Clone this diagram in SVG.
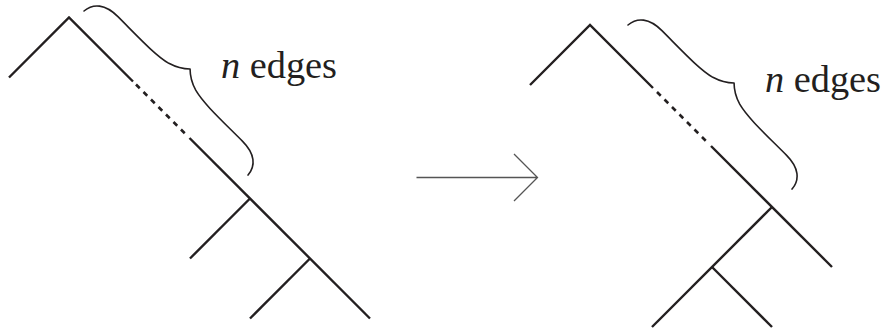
<svg xmlns="http://www.w3.org/2000/svg" width="885" height="329" viewBox="0 0 885 329">
<defs>
<style>
.e{fill:none;stroke:#231f20;stroke-width:2.4;stroke-linecap:butt}
.d{fill:none;stroke:#231f20;stroke-width:2.6;stroke-dasharray:5.3 5.3}
.b{fill:none;stroke:#231f20;stroke-width:1.6;stroke-linecap:round;stroke-linejoin:round}
.t{font-family:'Liberation Serif','Times New Roman',serif;font-size:37px;fill:#231f20}
.i{font-style:italic}
.a{fill:none;stroke:#555;stroke-width:1.3}
</style>
<path id="brace" d="M0,0 C1,-12 10,-20 28,-20 C58,-20 82,-19 97,-23 C107,-26 112,-30 116,-34 C120,-30 125,-26 135,-23 C150,-19 174,-20 204,-20 C222,-20 231,-12 232,0"/>
</defs>
<g id="left-tree">
<path class="e" d="M9,77.5 L69,17.5 L133,81.5"/>
<path class="d" d="M136,84.5 L186.5,135"/>
<path class="e" d="M189.5,138 L370,318.5"/>
<path class="e" d="M250,198.5 L190,258.5"/>
<path class="e" d="M310,258.5 L250,318.5"/>
</g>
<g id="left-brace">
<use href="#brace" class="b" transform="translate(84,11) rotate(45)"/>
<text class="t" x="221" y="78" textLength="116" lengthAdjust="spacingAndGlyphs"><tspan class="i">n</tspan> edges</text>
</g>
<g id="connectors">
<path class="a" d="M416.5,177.5 H537.5 M514,154 L537.5,177.5 L514,201"/>
</g>
<g id="right-tree">
<path class="e" d="M530,85 L590,25 L653,88"/>
<path class="d" d="M657,92 L708,143"/>
<path class="e" d="M711,146 L832,267"/>
<path class="e" d="M772,207 L652,327"/>
<path class="e" d="M712,267 L772,327"/>
</g>
<g id="right-brace">
<use href="#brace" class="b" transform="translate(628,25) rotate(45)"/>
<text class="t" x="765" y="92" textLength="116" lengthAdjust="spacingAndGlyphs"><tspan class="i">n</tspan> edges</text>
</g>
</svg>
